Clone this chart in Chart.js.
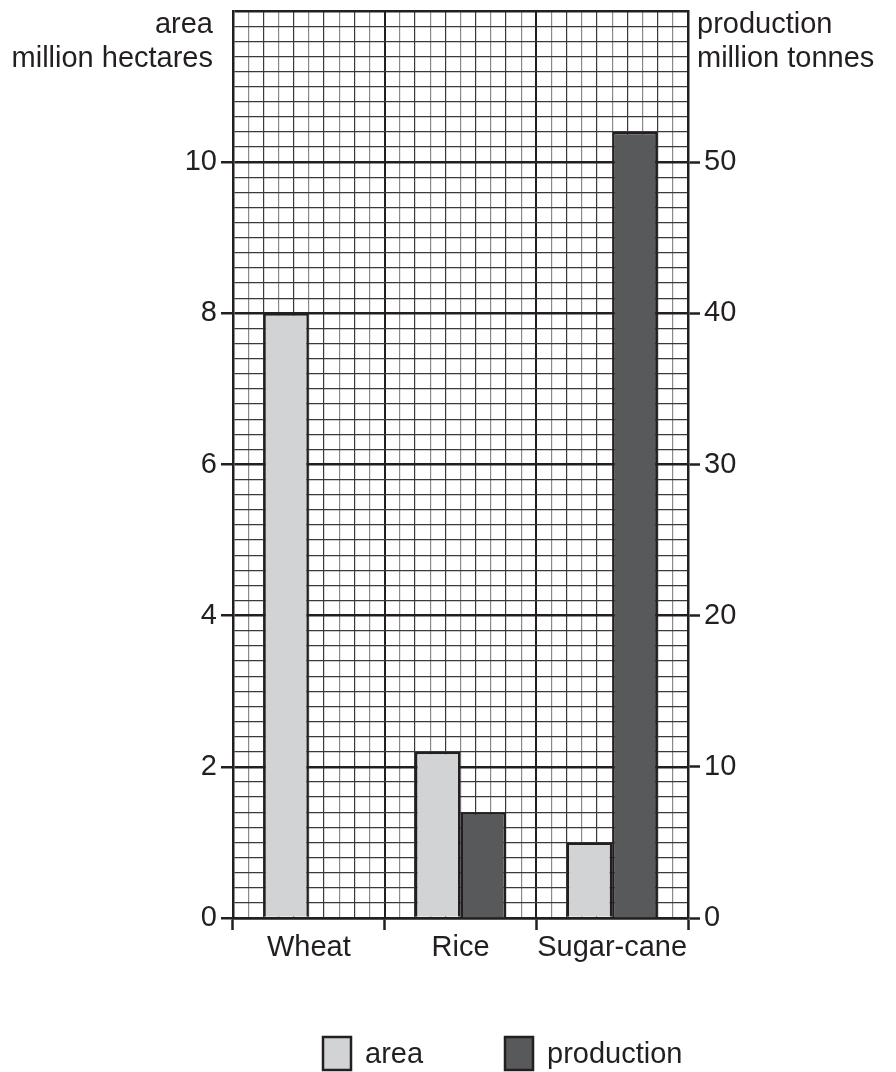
<!DOCTYPE html>
<html>
<head>
<meta charset="utf-8">
<script src="https://cdn.jsdelivr.net/npm/chart.js@4"></script>
<style>
  body { margin: 0; background: #fff; }
  canvas { display: block; }
</style>
</head>
<body>
<canvas id="cropChart" width="896" height="1072"></canvas>
<script>
// data
const categories = ['Wheat', 'Rice', 'Sugar-cane'];
const areaValues = [8.0, 2.2, 1.0];            // million hectares
const productionValues = [null, 7, 52];        // million tonnes
const seriesLabels = ['area', 'production'];
const leftTickLabels = [0, 2, 4, 6, 8, 10];
const rightTickLabels = [0, 10, 20, 30, 40, 50];

const ink = '#231f20';
const font = { family: 'Liberation Sans, Arial, sans-serif', size: 29 };

function isMultiple(v, step) {
    return Math.abs(v / step - Math.round(v / step)) < 1e-6;
}
// tick value from a scriptable context (null when not called for a tick)
function tv(ctx) {
    return ctx && ctx.tick ? ctx.tick.value : null;
}
function noPad(s) {
    s.paddingTop = 0;
    s.paddingBottom = 0;
    s.paddingLeft = 0;
    s.paddingRight = 0;
}

// axis titles at the top + legend underneath
const extras = {
    id: 'extras',
    afterDraw(chart) {
        const c = chart.ctx;
        const a = chart.chartArea;
        c.save();
        c.fillStyle = ink;
        c.font = font.size + 'px ' + font.family;
        c.textBaseline = 'alphabetic';
        c.textAlign = 'right';
        c.fillText('area', a.left - 20, 33);
        c.fillText('million hectares', a.left - 20, 67);
        c.textAlign = 'left';
        c.fillText('production', a.right + 9, 33);
        c.fillText('million tonnes', a.right + 9, 67);

        const boxX = [323, 505];
        chart.data.datasets.forEach((ds, i) => {
            const x = boxX[i];
            c.fillStyle = ds.backgroundColor;
            c.strokeStyle = ink;
            c.lineWidth = 2.5;
            c.fillRect(x, 1037, 28, 33);
            c.strokeRect(x, 1037, 28, 33);
            c.fillStyle = ink;
            c.textBaseline = 'middle';
            c.fillText(ds.label, x + 42, 1055);
        });
        c.restore();
    }
};

new Chart(document.getElementById('cropChart'), {
    type: 'bar',
    data: {
        labels: categories,
        datasets: [{
            label: seriesLabels[0],
            data: areaValues,
            yAxisID: 'y',
            backgroundColor: '#d1d3d4',
            borderColor: ink,
            borderWidth: 2.5,
            categoryPercentage: 0.6,
            barPercentage: 1.0
        }, {
            label: seriesLabels[1],
            data: productionValues,
            yAxisID: 'y2',
            backgroundColor: '#58595b',
            borderColor: ink,
            borderWidth: 2.5,
            categoryPercentage: 0.6,
            barPercentage: 1.0
        }]
    },
    options: {
        responsive: false,
        animation: false,
        devicePixelRatio: 1,
        layout: { padding: { top: 11, bottom: 0, left: 0, right: 0 } },
        plugins: {
            legend: { display: false },
            tooltip: { enabled: false }
        },
        scales: {
            x: {
                offset: true,
                afterFit: s => { s.height = 154; noPad(s); },
                grid: {
                    drawOnChartArea: false,
                    drawTicks: true,
                    tickLength: 12,
                    tickWidth: 2.5,
                    tickColor: ink,
                    color: ink,
                    offset: true
                },
                border: { color: ink, width: 2.5 },
                ticks: {
                    color: ink,
                    font: font,
                    padding: 1,
                    autoSkip: false,
                    maxRotation: 0,
                    minRotation: 0
                }
            },
            // hidden helper axis for the graph-paper columns (10 per category)
            xGrid: {
                type: 'linear',
                position: 'top',
                min: 0,
                max: 30,
                offset: false,
                afterFit: s => { s.height = 0; noPad(s); },
                ticks: { display: false, stepSize: 1 },
                border: { display: false, color: ink },
                grid: {
                    offset: false,
                    drawTicks: false,
                    tickColor: ink,
                    color: ctx => {
                        const v = tv(ctx);
                        if (v === null || isMultiple(v, 10)) return ink;
                        return isMultiple(v, 2) ? '#3a3a3a' : '#8a8a8a';
                    },
                    lineWidth: ctx => {
                        const v = tv(ctx);
                        return (v === null || isMultiple(v, 10)) ? 2 : 1.2;
                    }
                }
            },
            y: {
                position: 'left',
                min: 0,
                max: 12,
                afterFit: s => { s.width = 233; noPad(s); },
                ticks: {
                    stepSize: 0.2,
                    autoSkip: false,
                    color: ink,
                    font: font,
                    padding: 4,
                    callback: v => {
                        const hit = leftTickLabels.find(t => Math.abs(t - v) < 1e-6);
                        return hit === undefined ? '' : String(hit);
                    }
                },
                border: { color: ink, width: 2.5 },
                grid: {
                    tickLength: 12,
                    color: ctx => {
                        const v = tv(ctx);
                        return (v === null || isMultiple(v, 2)) ? ink : '#3a3a3a';
                    },
                    lineWidth: ctx => {
                        const v = tv(ctx);
                        return (v === null || isMultiple(v, 2)) ? 2.5 : 1.2;
                    },
                    tickColor: ctx => {
                        const v = tv(ctx);
                        return (v !== null && isMultiple(v, 2) && v < 11) ? ink : 'rgba(0,0,0,0)';
                    },
                    tickWidth: 2.5
                }
            },
            y2: {
                position: 'right',
                min: 0,
                max: 60,
                afterFit: s => { s.width = 208; noPad(s); },
                ticks: {
                    stepSize: 10,
                    color: ink,
                    font: font,
                    padding: 4,
                    callback: v => rightTickLabels.includes(v) ? String(v) : ''
                },
                border: { color: ink, width: 2.5 },
                grid: {
                    drawOnChartArea: false,
                    color: ink,
                    tickLength: 12,
                    tickWidth: 2.5,
                    tickColor: ctx => {
                        const v = tv(ctx);
                        return (v !== null && v < 60) ? ink : 'rgba(0,0,0,0)';
                    }
                }
            }
        }
    },
    plugins: [extras]
});
</script>
</body>
</html>
